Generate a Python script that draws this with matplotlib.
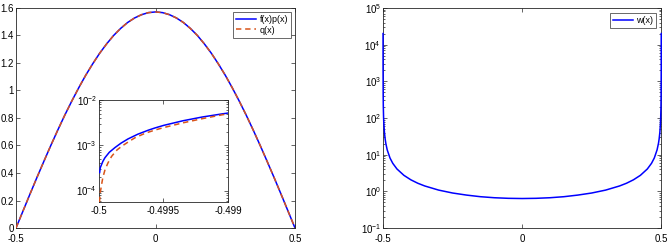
import matplotlib
matplotlib.use("Agg")
import matplotlib.pyplot as plt
from matplotlib.ticker import LogLocator, NullFormatter, FixedLocator

plt.rcParams["font.family"] = ["Liberation Sans", "DejaVu Sans"]
plt.rcParams["mathtext.fontset"] = "custom"
plt.rcParams["mathtext.rm"] = "Liberation Sans"
plt.rcParams["mathtext.it"] = "Liberation Sans"

# main panel: f(x)p(x) and q(x)
x_main = [-0.5, -0.475, -0.45, -0.425, -0.4, -0.375, -0.35, -0.325, -0.3, -0.275, -0.25,
          -0.225, -0.2, -0.175, -0.15, -0.125, -0.1, -0.075, -0.05, -0.025, 0.0,
          0.025, 0.05, 0.075, 0.1, 0.125, 0.15, 0.175, 0.2, 0.225, 0.25,
          0.275, 0.3, 0.325, 0.35, 0.375, 0.4, 0.425, 0.45, 0.475, 0.5]
fp_main = [0.0, 0.123, 0.246, 0.367, 0.485, 0.601, 0.713, 0.821, 0.923, 1.020, 1.111,
           1.194, 1.271, 1.339, 1.400, 1.451, 1.494, 1.527, 1.551, 1.566, 1.571,
           1.566, 1.551, 1.527, 1.494, 1.451, 1.400, 1.339, 1.271, 1.194, 1.111,
           1.020, 0.923, 0.821, 0.713, 0.601, 0.485, 0.367, 0.246, 0.123, 0.0]
q_main = [0.0, 0.123, 0.246, 0.367, 0.485, 0.601, 0.713, 0.821, 0.923, 1.020, 1.111,
          1.194, 1.271, 1.339, 1.400, 1.451, 1.494, 1.527, 1.551, 1.566, 1.571,
          1.566, 1.551, 1.527, 1.494, 1.451, 1.400, 1.339, 1.271, 1.194, 1.111,
          1.020, 0.923, 0.821, 0.713, 0.601, 0.485, 0.367, 0.246, 0.123, 0.0]

# inset near the left end point
x_fp_inset = [-0.499995, -0.49999, -0.49997, -0.499954, -0.49992, -0.499876, -0.49983,
              -0.499775, -0.4997, -0.49962, -0.49957, -0.4995, -0.49935, -0.4992, -0.49905, -0.499]
fp_inset = [2.5e-4, 3.2e-4, 4.4e-4, 5.3e-4, 7.0e-4, 8.9e-4, 1.11e-3,
            1.38e-3, 1.75e-3, 2.14e-3, 2.39e-3, 2.74e-3, 3.47e-3, 4.2e-3, 4.9e-3, 5.14e-3]
x_q_inset = [-0.499996, -0.49999, -0.499979, -0.49997, -0.499953, -0.49993, -0.499902,
             -0.49986, -0.499824, -0.49977, -0.49972, -0.49964, -0.49957, -0.4995, -0.49935,
             -0.4992, -0.49905, -0.499]
q_inset = [5.6e-5, 9.0e-5, 1.4e-4, 1.95e-4, 2.9e-4, 4.1e-4, 5.7e-4,
           7.9e-4, 9.5e-4, 1.2e-3, 1.47e-3, 1.85e-3, 2.15e-3, 2.45e-3, 3.12e-3,
           3.86e-3, 4.67e-3, 4.95e-3]

# right panel: w(x)
x_w = [-0.49999, -0.4999, -0.4995, -0.499, -0.498, -0.497, -0.495, -0.4925, -0.49, -0.485,
       -0.475, -0.465, -0.45, -0.425, -0.4, -0.375, -0.35, -0.3, -0.25, -0.2, -0.15, -0.1,
       -0.05, 0.0, 0.05, 0.1, 0.15, 0.2, 0.25, 0.3, 0.35, 0.375, 0.4, 0.425, 0.45, 0.465,
       0.475, 0.485, 0.49, 0.4925, 0.495, 0.497, 0.498, 0.499, 0.4995, 0.4999, 0.49999]
w_vals = [2.0e4, 2.0e3, 405, 203, 101, 67.7, 40.6, 27.1, 20.3, 13.5,
          8.1, 5.8, 4.07, 2.73, 2.06, 1.66, 1.40, 1.08, 0.90, 0.79, 0.714, 0.669,
          0.645, 0.637, 0.645, 0.669, 0.714, 0.79, 0.90, 1.08, 1.40, 1.66, 2.06, 2.73, 4.07, 5.8,
          8.1, 13.5, 20.3, 27.1, 40.6, 67.7, 101, 203, 405, 2.0e3, 2.0e4]

BLUE = "#0000ff"
ORANGE = "#d95319"
SPINE = "#262626"


def style_axes(ax):
    for s in ax.spines.values():
        s.set_color(SPINE)
        s.set_linewidth(0.6)
    ax.tick_params(which="both", direction="in", top=True, right=True,
                   colors=SPINE, labelcolor="black", labelsize=7, width=0.5)
    ax.tick_params(which="major", length=3)
    ax.tick_params(which="minor", length=1.6)
    ax.tick_params(axis="y", pad=1.5)
    ax.tick_params(axis="x", pad=4.5)


fig = plt.figure(figsize=(6.72, 2.48), dpi=100)

ax1 = fig.add_axes([0.0238, 0.0806, 0.4152, 0.8874])
ax1.plot(x_main, fp_main, color=BLUE, lw=1.1, label="f(x)p(x)", zorder=3)
ax1.plot(x_main, q_main, color=ORANGE, lw=1.1, ls=(0, (3.5, 2.5)), label="q(x)", zorder=3)
ax1.set_xlim(-0.5, 0.5)
ax1.set_ylim(0, 1.6)
ax1.set_xticks([-0.5, 0, 0.5])
ax1.set_xticklabels(["-0.5", "0", "0.5"])
ax1.set_yticks([0, 0.2, 0.4, 0.6, 0.8, 1.0, 1.2, 1.4, 1.6])
ax1.set_yticklabels(["0", "0.2", "0.4", "0.6", "0.8", "1", "1.2", "1.4", "1.6"])
style_axes(ax1)
leg1 = ax1.legend(loc="upper right", fontsize=6.5, frameon=True, fancybox=False,
                  edgecolor=SPINE, handlelength=2.2, handletextpad=0.4,
                  borderpad=0.35, labelspacing=0.2, borderaxespad=0.4)
leg1.get_frame().set_linewidth(0.6)

ins = fig.add_axes([0.1473, 0.1855, 0.192, 0.4115])
ins.plot(x_fp_inset, fp_inset, color=BLUE, lw=1.1, zorder=3)
ins.plot(x_q_inset, q_inset, color=ORANGE, lw=1.1, ls=(0, (3.5, 2.5)), zorder=3)
ins.set_yscale("log")
ins.set_xlim(-0.5, -0.499)
ins.set_ylim(5.6e-5, 1e-2)
ins.set_xticks([-0.5, -0.4995, -0.499])
ins.set_xticklabels(["-0.5", "-0.4995", "-0.499"])
ins.yaxis.set_major_locator(FixedLocator([1e-4, 1e-3, 1e-2]))
ins.yaxis.set_minor_locator(LogLocator(base=10, subs=range(2, 10), numticks=10))
ins.yaxis.set_minor_formatter(NullFormatter())
style_axes(ins)
ins.tick_params(axis="x", pad=3)

ax2 = fig.add_axes([0.570, 0.0806, 0.414, 0.8874])
ax2.plot(x_w, w_vals, color=BLUE, lw=1.1, label="w(x)", zorder=3, clip_on=False)
ax2.set_yscale("log")
ax2.set_xlim(-0.5, 0.5)
ax2.set_ylim(1e-1, 1e5)
ax2.set_xticks([-0.5, 0, 0.5])
ax2.set_xticklabels(["-0.5", "0", "0.5"])
ax2.yaxis.set_major_locator(FixedLocator([1e-1, 1, 10, 1e2, 1e3, 1e4, 1e5]))
ax2.yaxis.set_minor_locator(LogLocator(base=10, subs=range(2, 10), numticks=12))
ax2.yaxis.set_minor_formatter(NullFormatter())
style_axes(ax2)
leg2 = ax2.legend(loc="upper right", fontsize=6.5, frameon=True, fancybox=False,
                  edgecolor=SPINE, handlelength=2.2, handletextpad=0.4,
                  borderpad=0.3, labelspacing=0.15, borderaxespad=0.6)
leg2.get_frame().set_linewidth(0.6)

fig.savefig("out.png", dpi=100)
